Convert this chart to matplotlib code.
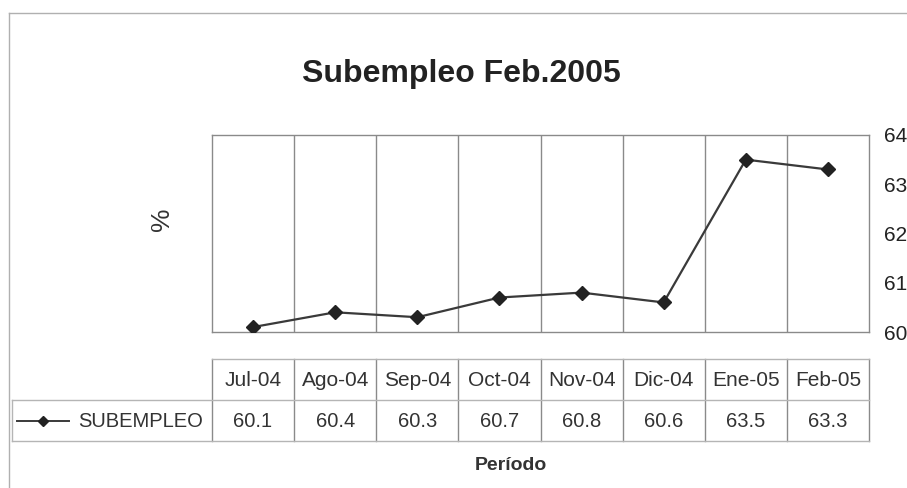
import matplotlib.pyplot as plt
from matplotlib.lines import Line2D

# datos del periodo
periodos = ['Jul-04', 'Ago-04', 'Sep-04', 'Oct-04', 'Nov-04', 'Dic-04', 'Ene-05', 'Feb-05']
subempleo = [60.1, 60.4, 60.3, 60.7, 60.8, 60.6, 63.5, 63.3]
serie = 'SUBEMPLEO'
y_ticks = [60, 61, 62, 63, 64]

W, H = 907, 488
fig = plt.figure(figsize=(W / 100, H / 100), dpi=100)
fig.patch.set_facecolor('white')
plt.rcParams['font.family'] = ['Liberation Sans', 'DejaVu Sans']

def px_axes(x0, y0, x1, y1):
    # caja en pixeles (origen arriba a la izquierda)
    return fig.add_axes([x0 / W, 1 - y1 / H, (x1 - x0) / W, (y1 - y0) / H])

grid_c = '#8a8a8a'
line_c = '#3a3a3a'
n = len(periodos)

# borde del grafico
border = px_axes(0, 0, W, H)
border.set_axis_off()
border.set_xlim(0, W)
border.set_ylim(H, 0)
border.plot([9, 9], [13, H], color='#b0b0b0', lw=1)
border.plot([9, W], [13, 13], color='#b0b0b0', lw=1)

# area de trazado
ax = px_axes(212, 135, 869, 332)
x = [i + 0.5 for i in range(n)]
ax.plot(x, subempleo, color=line_c, lw=1.6, marker='D', markersize=7,
        markerfacecolor='#222222', markeredgecolor='#222222', zorder=3)
ax.set_xlim(0, n)
ax.set_ylim(60, 64)
for i in range(1, n):
    ax.axvline(i, color=grid_c, lw=1)
for s in ax.spines.values():
    s.set_color(grid_c)
    s.set_linewidth(1)
ax.spines['left'].set_linestyle((0, (3, 1)))
ax.set_xticks([])
ax.yaxis.tick_right()
ax.set_yticks(y_ticks)
ax.tick_params(axis='y', length=0, pad=11, labelsize=15, labelcolor='#222222')

fig.text(162 / W, 1 - 219 / H, '%', rotation=90, fontsize=19, color='#333333',
         ha='center', va='center')
fig.text(461 / W, 1 - 74 / H, 'Subempleo Feb.2005', fontsize=23, fontweight='bold',
         color='#222222', ha='center', va='center')

# tabla de datos
tab = px_axes(12, 359, 869, 441)
cw = (869 - 212) / n
x_left = -(212 - 12) / cw
tab.set_xlim(x_left, n)
tab.set_ylim(2, 0)
tab.set_axis_off()
for i in range(n + 1):
    tab.plot([i, i], [0, 2], color=grid_c, lw=1, clip_on=False)
tab.plot([0, n], [0, 0], color='#b5b5b5', lw=1, clip_on=False)
tab.plot([x_left, n], [1, 1], color='#b5b5b5', lw=1, clip_on=False)
tab.plot([x_left, n], [2, 2], color='#b5b5b5', lw=1, clip_on=False)
tab.plot([x_left, x_left], [1, 2], color='#b5b5b5', lw=1, clip_on=False)
for i, (p, v) in enumerate(zip(periodos, subempleo)):
    tab.text(i + 0.5, 0.52, p, ha='center', va='center', fontsize=15, color='#333333')
    tab.text(i + 0.5, 1.52, f'{v:.1f}', ha='center', va='center', fontsize=14.5,
             color='#333333')

# clave de la serie
tab.add_line(Line2D([x_left + 0.06, x_left + 0.7], [1.5, 1.5], color=line_c, lw=1.4,
                    clip_on=False))
tab.plot([x_left + 0.38], [1.5], marker='D', markersize=5, color='#222222', clip_on=False)
tab.text(x_left + 0.8, 1.52, serie, ha='left', va='center', fontsize=14.5, color='#333333')

fig.text(511 / W, 1 - 466 / H, 'Período', fontsize=14, fontweight='bold',
         color='#333333', ha='center', va='center')

fig.savefig('out.png', dpi=100)
